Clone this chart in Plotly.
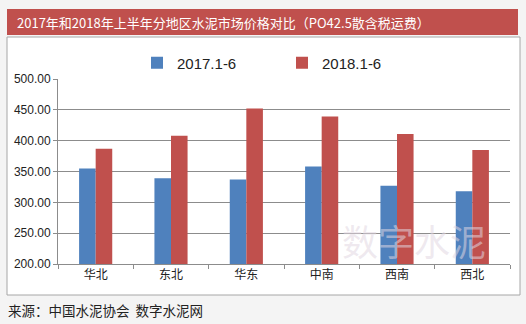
import plotly.graph_objects as go

# Data
regions = ["华北", "东北", "华东", "中南", "西南", "西北"]
price_2017 = [355, 339, 337, 358, 327, 318]
price_2018 = [387, 408, 452, 439, 411, 385]
series_names = ["2017.1-6", "2018.1-6"]
title_text = "2017年和2018年上半年分地区水泥市场价格对比（PO42.5散含税运费）"
source_text = "来源：中国水泥协会  数字水泥网"

W, H = 526, 324
L, R, T, B = 58, 16, 79, 60
PW, PH = W - L - R, H - T - B


def px(x):
    return (x - L) / PW


def py(y):
    return (H - B - y) / PH


FONT = "Liberation Sans, Noto Sans CJK SC, sans-serif"
CJK = "Noto Sans CJK SC, sans-serif"

fig = go.Figure()
fig.add_trace(go.Bar(x=regions, y=price_2017, name=series_names[0],
                     marker=dict(color="#4f81bd", line=dict(width=0))))
fig.add_trace(go.Bar(x=regions, y=price_2018, name=series_names[1],
                     marker=dict(color="#c0504d", line=dict(width=0))))

shapes = [
    # white chart panel with grey frame
    dict(type="rect", xref="paper", yref="paper",
         x0=px(7), x1=px(520), y0=py(295), y1=py(37),
         fillcolor="white", line=dict(color="#a6a6a6", width=1), layer="below"),
    # title banner
    dict(type="rect", xref="paper", yref="paper",
         x0=px(7), x1=px(518), y0=py(35), y1=py(9),
         fillcolor="#c0504d", line=dict(width=0), layer="below"),
]

annotations = [
    dict(text=title_text, xref="paper", yref="paper", x=px(15), y=py(22),
         xanchor="left", yanchor="middle", showarrow=False,
         font=dict(family=CJK, size=13, color="white")),
    dict(text=source_text, xref="paper", yref="paper", x=px(6), y=py(310),
         xanchor="left", yanchor="middle", showarrow=False,
         font=dict(family=CJK, size=13.5, color="#222222")),
    # watermark
    dict(text="数字水泥", xref="paper", yref="paper", x=px(414), y=py(240),
         xanchor="center", yanchor="middle", showarrow=False,
         font=dict(family=CJK, size=36, color="rgba(225,215,225,0.55)")),
]

fig.update_layout(
    width=W, height=H,
    margin=dict(l=L, r=R, t=T, b=B),
    paper_bgcolor="#f4f4f4",
    plot_bgcolor="rgba(0,0,0,0)",
    barmode="group",
    bargap=0.56,
    bargroupgap=0,
    font=dict(family=FONT, size=12, color="#222222"),
    shapes=shapes,
    annotations=annotations,
    showlegend=True,
    legend=dict(orientation="h", x=px(137), y=py(63),
                xanchor="left", yanchor="middle",
                bgcolor="rgba(0,0,0,0)",
                font=dict(family=FONT, size=15, color="#222222"),
                entrywidth=100, entrywidthmode="pixels",
                itemsizing="constant"),
)

fig.update_yaxes(range=[200, 500], dtick=50, tickformat=".2f",
                 showgrid=True, gridcolor="#8c8c8c", gridwidth=1,
                 showline=True, linecolor="#8c8c8c", linewidth=1,
                 ticks="outside", ticklen=4, tickcolor="#8c8c8c",
                 tickfont=dict(family=FONT, size=12, color="#222222"),
                 zeroline=False)
fig.update_xaxes(showline=True, linecolor="#8c8c8c", linewidth=1,
                 ticks="outside", ticklen=4, tickcolor="#8c8c8c",
                 tickson="boundaries",
                 tickfont=dict(family=CJK, size=12, color="#222222"),
                 showgrid=False)

fig.write_html("out.html")
